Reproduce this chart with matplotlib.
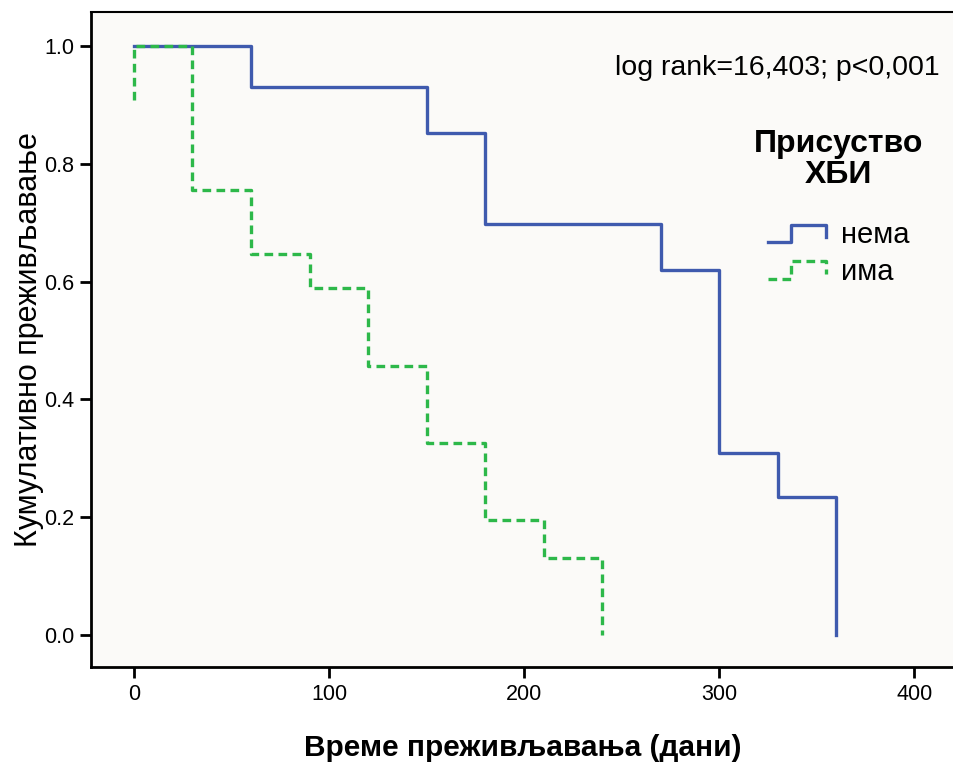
import matplotlib
matplotlib.use("Agg")
import matplotlib.pyplot as plt
from matplotlib.legend_handler import HandlerBase
from matplotlib.lines import Line2D

FONT = ["Liberation Sans", "DejaVu Sans"]

# Kaplan-Meier steps per group (days, cumulative survival)
time_nema = [0, 60, 150, 180, 270, 300, 330, 360]
surv_nema = [1.0, 0.930, 0.852, 0.698, 0.620, 0.309, 0.234, 0.0]

time_ima = [0, 0, 30, 60, 90, 120, 150, 180, 210, 240]
surv_ima = [0.908, 1.0, 0.756, 0.647, 0.589, 0.457, 0.326, 0.195, 0.131, 0.0]

group_labels = ["нема", "има"]
x_ticks = [0, 100, 200, 300, 400]
y_ticks = [0.0, 0.2, 0.4, 0.6, 0.8, 1.0]

BLUE = "#3F5AAE"
GREEN = "#2DB84A"


class StepHandler(HandlerBase):
    def create_artists(self, legend, orig_handle, xdescent, ydescent,
                       width, height, fontsize, trans):
        w, h = width, height
        xs = [-xdescent, 0.4 * w, 0.4 * w, w, w]
        ys = [0.05 * h, 0.05 * h, 0.9 * h, 0.9 * h, 0.3 * h]
        ln = Line2D(xs, ys, color=orig_handle.get_color(),
                    linestyle=orig_handle.get_linestyle(),
                    linewidth=orig_handle.get_linewidth(),
                    transform=trans)
        if orig_handle.get_linestyle() == "--":
            ln.set_dashes((2.6, 1.6))
        return [ln]


fig = plt.figure(figsize=(9.54, 7.65), dpi=100)
ax = fig.add_axes([0.0954, 0.1281, 0.905, 0.8562])
ax.set_facecolor("#FBFAF8")

l1, = ax.step(time_nema, surv_nema, where="post", color=BLUE, linewidth=2.4)
l2, = ax.step(time_ima, surv_ima, where="post", color=GREEN, linewidth=2.4,
              linestyle="--", dashes=(2.6, 1.6))

ax.set_xlim(-22, 420.5)
ax.set_ylim(-0.0543, 1.0577)
ax.set_xticks(x_ticks)
ax.set_yticks(y_ticks)
ax.set_yticklabels([f"{v:.1f}" for v in y_ticks])

for lab in ax.get_xticklabels() + ax.get_yticklabels():
    lab.set_family(FONT)
    lab.set_fontsize(15.5)
ax.tick_params(direction="out", length=8, width=2, pad=4, colors="black")

for side in ["left", "bottom"]:
    ax.spines[side].set_linewidth(2)
for side in ["top", "right"]:
    ax.spines[side].set_linewidth(1.5)

ax.set_xlabel("Време преживљавања (дани)", family=FONT, fontsize=21.5,
              fontweight="bold", labelpad=21)
ax.set_ylabel("Кумулативно преживљавање", family=FONT, fontsize=22,
              labelpad=0)

ax.text(0.983, 0.915, "log rank=16,403; p<0,001", transform=ax.transAxes,
        ha="right", va="center", family=FONT, fontsize=20.5)

leg = ax.legend([l1, l2], group_labels, handler_map={Line2D: StepHandler()},
                title="Присуство\nХБИ", frameon=False,
                loc="center", bbox_to_anchor=(0.866, 0.702),
                prop={"family": FONT, "size": 21},
                handlelength=2.0, handletextpad=0.5, labelspacing=0.3,
                borderpad=0)
title = leg.get_title()
title.set_family(FONT)
title.set_fontsize(23)
title.set_fontweight("bold")
title.set_multialignment("center")
title.set_linespacing(1.08)
leg._legend_box.sep = 22

fig.savefig("out.png", dpi=100, facecolor="white")
plt.close(fig)
